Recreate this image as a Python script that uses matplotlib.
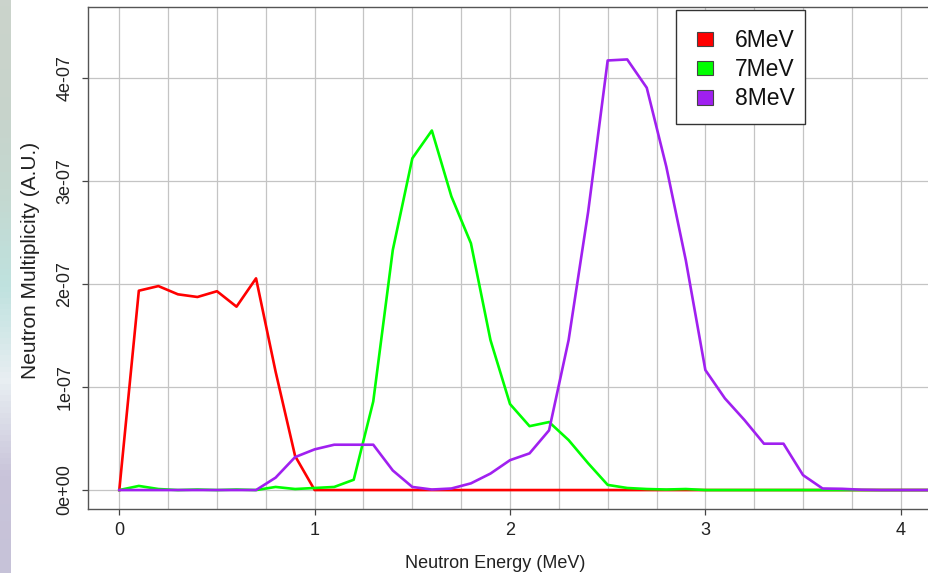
import numpy as np
import matplotlib
matplotlib.use("Agg")
import matplotlib.pyplot as plt
from matplotlib.patches import Patch, Rectangle
from matplotlib.colors import LinearSegmentedColormap

plt.rcParams['font.family'] = ['Liberation Sans', 'DejaVu Sans']

# neutron energy grid (MeV)
energy = np.round(np.arange(0, 4.25, 0.1), 1)

# multiplicity in units of 1e-7
mev6 = [0, 1.935, 1.98, 1.90, 1.874, 1.93, 1.78, 2.055, 1.15, 0.33,
        0, 0, 0, 0, 0, 0, 0, 0, 0, 0,
        0, 0, 0, 0, 0, 0, 0, 0, 0, 0,
        0, 0, 0, 0, 0, 0, 0, 0, 0, 0,
        0, 0, 0]
mev7 = [0, 0.04, 0.01, 0, 0.005, 0, 0.005, 0, 0.03, 0.01,
        0.02, 0.03, 0.1, 0.86, 2.33, 3.22, 3.49, 2.85, 2.395, 1.456,
        0.835, 0.62, 0.66, 0.485, 0.26, 0.05, 0.02, 0.01, 0.005, 0.01,
        0, 0, 0, 0, 0, 0, 0, 0, 0, 0,
        0, 0, 0]
mev8 = [0, 0, 0, 0, 0, 0, 0, 0, 0.12, 0.32,
        0.395, 0.44, 0.44, 0.44, 0.19, 0.03, 0.005, 0.015, 0.065, 0.16,
        0.29, 0.356, 0.58, 1.456, 2.7, 4.17, 4.18, 3.905, 3.14, 2.23,
        1.165, 0.89, 0.68, 0.45, 0.45, 0.145, 0.015, 0.012, 0.003, 0,
        0, 0, 0]

labels = ["6MeV", "7MeV", "8MeV"]
colors = ["#ff0000", "#00ff00", "#a020f0"]
ytick_vals = [0, 1, 2, 3, 4]
ytick_txt = ["0e+00", "1e-07", "2e-07", "3e-07", "4e-07"]

W, H = 929, 573
fig = plt.figure(figsize=(W / 100, H / 100), dpi=100)

# bit of desktop showing on the left edge
strip = fig.add_axes([0, 0, 11 / W, 1])
cmap = LinearSegmentedColormap.from_list(
    "bg", ["#c6c2d8", "#c9c4da", "#e8eef2", "#bfe2df", "#c4d8d0", "#c8d3cb", "#cbd3cc"])
strip.imshow(np.linspace(0, 1, 100).reshape(-1, 1), aspect="auto", cmap=cmap, origin="lower")
strip.axis("off")

x0, x1 = 88, 960
ytop, ybot = 7, 509
ax = fig.add_axes([x0 / W, 1 - ybot / H, (x1 - x0) / W, (ybot - ytop) / H])

px_per_mev = 195.35
xorig = 119.3
ax.set_xlim((x0 - xorig) / px_per_mev, (x1 - xorig) / px_per_mev)
ax.set_ylim(-0.184e-7, 4.689e-7)

for v in np.arange(0, 4.3, 0.25):
    ax.axvline(v, color="#c4c4c4", lw=0.9, zorder=0)
for v in ytick_vals:
    ax.axhline(v * 1e-7, color="#c4c4c4", lw=0.9, zorder=0)

for ys, c in zip([mev6, mev7, mev8], colors):
    ax.plot(energy, np.array(ys) * 1e-7, color=c, lw=1.9, zorder=2)

ax.set_xticks([0, 1, 2, 3, 4])
ax.set_xticklabels(["0", "1", "2", "3", "4"])
ax.set_yticks([v * 1e-7 for v in ytick_vals])
ax.set_yticklabels(ytick_txt, rotation=90, va="center")

ax.tick_params(direction="out", length=4.5, width=0.9, color="#444444",
               labelsize=13, labelcolor="#222222")
ax.tick_params(axis="x", pad=5)
ax.tick_params(axis="y", pad=6)
for s in ax.spines.values():
    s.set_color("#555555")
    s.set_linewidth(1.0)
ax.spines["right"].set_visible(False)

ax.set_xlabel("Neutron Energy (MeV)", fontsize=13, color="#222222")
ax.xaxis.set_label_coords((495 - x0) / (x1 - x0), -(555 - ybot) / (ybot - ytop), transform=ax.transAxes)
ax.set_ylabel("Neutron Multiplicity (A.U.)", fontsize=15, color="#222222")
ax.yaxis.set_label_coords(-(x0 - 40) / (x1 - x0), (ybot - 260) / (ybot - ytop), transform=ax.transAxes)

# legend, frame drawn by hand
fig.patches.append(Rectangle((676 / W, 1 - 124 / H), (805 - 676) / W, (124 - 10) / H,
                             transform=fig.transFigure, facecolor="white",
                             edgecolor="#333333", lw=1.0, zorder=5))
handles = [Patch(facecolor=c, edgecolor="#444444", lw=0.8) for c in colors]
leg = fig.legend(handles, labels, loc="upper left", bbox_to_anchor=(697 / W, 1 - 29 / H),
                 bbox_transform=fig.transFigure, frameon=False, fontsize=16.5,
                 handlelength=0.72, handleheight=0.6, handletextpad=0.95,
                 labelspacing=0.27, borderpad=0, borderaxespad=0)
leg.set_zorder(6)
for t in leg.get_texts():
    t.set_color("#111111")

fig.savefig("out.png", dpi=100)
